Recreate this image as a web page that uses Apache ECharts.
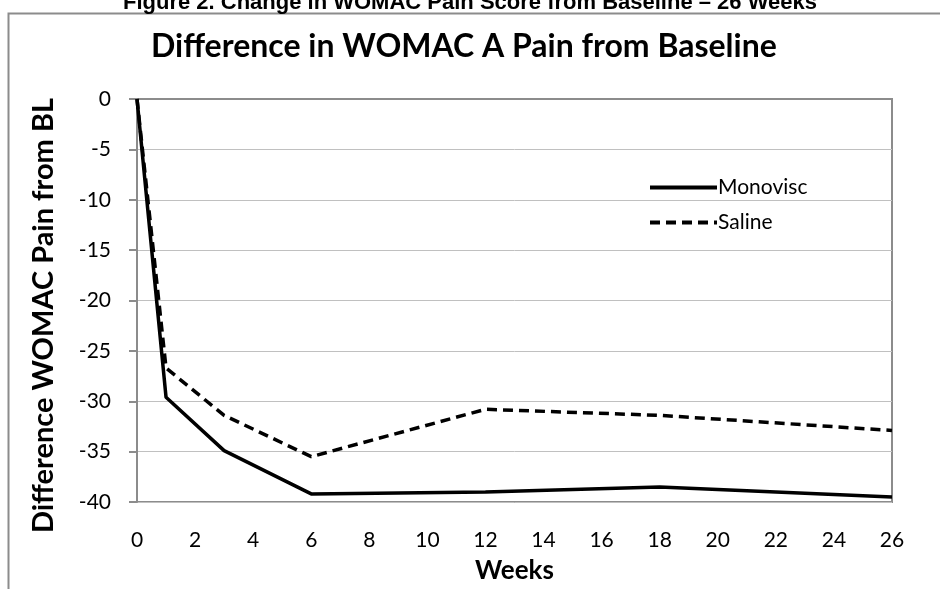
<!DOCTYPE html>
<html>
<head>
<meta charset="utf-8">
<script src="https://cdn.jsdelivr.net/npm/echarts@6/dist/echarts.min.js"></script>
<style>
  html, body { margin: 0; padding: 0; background: #fff; }
  #chart { width: 940px; height: 589px; }
</style>
</head>
<body>
<div id="chart"></div>
<script>
// weeks and change from baseline
var weeks = [0, 1, 3, 6, 12, 18, 26];
var monovisc = [0, -29.6, -34.9, -39.2, -39.0, -38.5, -39.5];
var saline = [0, -26.7, -31.4, -35.5, -30.8, -31.4, -32.9];
var seriesNames = ['Monovisc', 'Saline'];

var font = 'Lato, "Open Sans", sans-serif';
var axisGrey = '#8c8c8c';

function pairs(xs, ys) {
  return xs.map((x, i) => [x, ys[i]]);
}

var myChart = echarts.init(document.getElementById('chart'));
var option = {
  animation: false,
  backgroundColor: '#fff',
  title: [{
    text: 'Figure 2. Change in WOMAC Pain Score from Baseline \u2013 26 Weeks',
    left: 'center',
    top: -13,
    textStyle: { fontFamily: '"Liberation Sans", Arial, sans-serif', fontWeight: 'bold', fontSize: 22, color: '#000' }
  }, {
    text: 'Difference in WOMAC A Pain from Baseline',
    left: 146,
    top: 26,
    textStyle: { fontFamily: font, fontWeight: 'bold', fontSize: 32, color: '#000' }
  }],
  graphic: [{
    type: 'rect',
    shape: { x: 8.5, y: 13.5, width: 960, height: 600 },
    style: { fill: 'none', stroke: '#8c8c8c', lineWidth: 2 },
    silent: true
  }],
  legend: {
    orient: 'vertical',
    left: 643,
    top: 172,
    itemWidth: 67,
    itemHeight: 14,
    itemGap: 14,
    data: seriesNames,
    itemStyle: { opacity: 0 },
    lineStyle: { width: 4 },
    textStyle: { fontFamily: font, fontSize: 21, color: '#000', padding: [0, 0, 0, -4] }
  },
  grid: {
    left: 137,
    right: 48,
    top: 99,
    bottom: 87,
    show: true,
    borderColor: axisGrey,
    borderWidth: 2,
    containLabel: false,
    outerBoundsMode: 'none'
  },
  xAxis: {
    type: 'value',
    min: 0,
    max: 26,
    interval: 2,
    name: 'Weeks',
    nameLocation: 'middle',
    nameGap: 56,
    nameTextStyle: { fontFamily: font, fontWeight: 'bold', fontSize: 26, color: '#000' },
    axisLine: { lineStyle: { color: axisGrey, width: 2 } },
    axisTick: { show: false },
    axisLabel: { fontFamily: font, fontSize: 21, color: '#000', margin: 28 },
    splitLine: { show: false }
  },
  yAxis: {
    type: 'value',
    min: -40,
    max: 0,
    interval: 5,
    name: 'Difference WOMAC Pain from BL',
    nameLocation: 'middle',
    nameGap: 79,
    nameTextStyle: { fontFamily: font, fontWeight: 'bold', fontSize: 29, color: '#000', padding: [0, 30, 0, 0] },
    axisLine: { show: true, lineStyle: { color: axisGrey, width: 2 } },
    axisTick: { show: true, length: 8, lineStyle: { color: axisGrey, width: 2 } },
    axisLabel: { fontFamily: font, fontSize: 21, color: '#000', margin: 26 },
    splitLine: { lineStyle: { color: '#c0c0c0', width: 1 } }
  },
  series: [{
    name: seriesNames[0],
    type: 'line',
    data: pairs(weeks, monovisc),
    symbol: 'none',
    lineStyle: { color: '#000', width: 3.5 },
    itemStyle: { color: '#000' }
  }, {
    name: seriesNames[1],
    type: 'line',
    data: pairs(weeks, saline),
    symbol: 'none',
    lineStyle: { color: '#000', width: 3.5, type: [10, 6] },
    itemStyle: { color: '#000' }
  }]
};
myChart.setOption(option);
</script>
</body>
</html>
